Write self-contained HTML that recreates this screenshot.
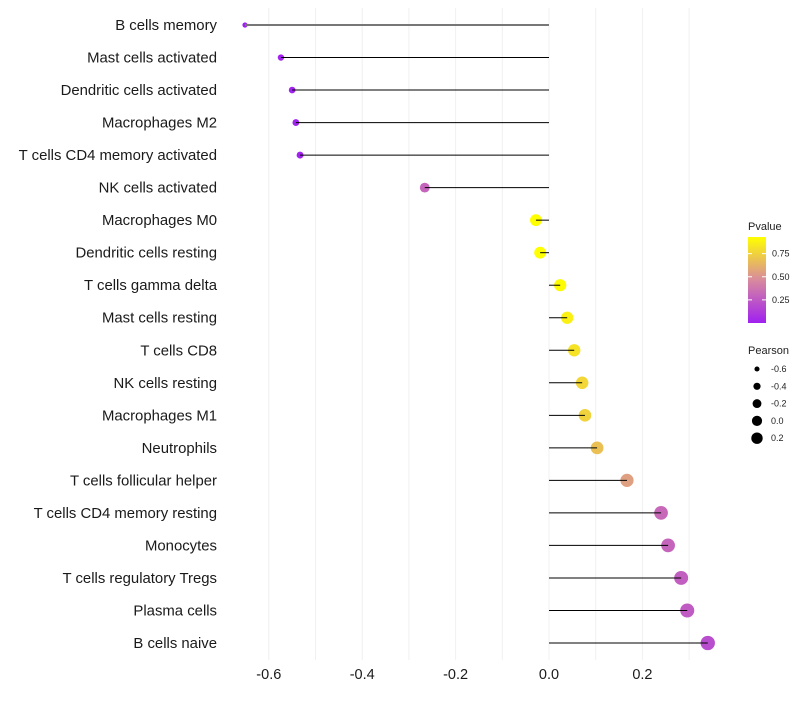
<!DOCTYPE html>
<html><head><meta charset="utf-8"><style>
body{margin:0;background:#fff;font-family:"Liberation Sans",sans-serif;}
svg text{font-family:"Liberation Sans",sans-serif;}
</style></head><body>
<svg id="chart" width="800" height="700"></svg>
<script>
const categories=["B cells memory","Mast cells activated","Dendritic cells activated","Macrophages M2","T cells CD4 memory activated","NK cells activated","Macrophages M0","Dendritic cells resting","T cells gamma delta","Mast cells resting","T cells CD8","NK cells resting","Macrophages M1","Neutrophils","T cells follicular helper","T cells CD4 memory resting","Monocytes","T cells regulatory  Tregs ","Plasma cells","B cells naive"];
const pearson=[-0.651,-0.574,-0.55,-0.542,-0.533,-0.266,-0.028,-0.019,0.024,0.039,0.054,0.071,0.077,0.103,0.167,0.24,0.255,0.283,0.296,0.34];
const pvalues=[0.004,0.008,0.01,0.012,0.014,0.3,0.93,0.93,0.92,0.87,0.82,0.77,0.75,0.68,0.55,0.32,0.3,0.27,0.26,0.2];
const xTicks=[-0.6,-0.4,-0.2,0.0,0.2];
const xTickLabels=["-0.6","-0.4","-0.2","0.0","0.2"];
const legendP=[0.75,0.5,0.25];
const legendPLabels=["0.75","0.50","0.25"];
const legendSizes=[-0.6,-0.4,-0.2,0.0,0.2];
const legendSizeLabels=["-0.6","-0.4","-0.2","0.0","0.2"];

const NS="http://www.w3.org/2000/svg";
const svg=document.getElementById('chart');
function el(t,a,p){const e=document.createElementNS(NS,t);for(const k in a)e.setAttribute(k,a[k]);(p||svg).appendChild(e);return e;}
const x=v=>549+v*467;
const y=i=>25+i*(618/19);
const r=v=>Math.sqrt(Math.max(3,9+(v+0.6)*45));
function lerp(a,b,t){return a.map((c,i)=>Math.round(c+(b[i]-c)*t));}
function col(p){const lo=[160,32,240],mid=[216,138,158],hi=[255,255,0];const t=Math.min(1,p/0.93);
 const c=t<0.5?lerp(lo,mid,t*2):lerp(mid,hi,(t-0.5)*2);return `rgb(${c})`;}

for(let v=-0.6;v<=0.31;v+=0.1){const g=el('line',{x1:x(v),x2:x(v),y1:8,y2:660,stroke:'#f0f0f0','stroke-width':1});
}
xTicks.forEach((v,i)=>{const t=el('text',{x:x(v),y:679,'font-size':14.5,'text-anchor':'middle',fill:'#1a1a1a'});t.textContent=xTickLabels[i];
});
categories.forEach((c,i)=>{
 const t=el('text',{x:217,y:y(i)+5,'font-size':14.9,'text-anchor':'end',fill:'#1a1a1a'});t.textContent=c;
 
 const d=el('circle',{cx:x(pearson[i]),cy:y(i),r:r(pearson[i]),fill:col(pvalues[i])});
 
 const l=el('line',{x1:x(0),x2:x(pearson[i]),y1:y(i),y2:y(i),stroke:i==0?'#777':'#000','stroke-width':i==0?2:1});
 
});
let tt=el('text',{x:748,y:230,'font-size':11,fill:'#222'});tt.textContent='Pvalue';

const defs=el('defs',{});const lg=el('linearGradient',{id:'g',x1:0,y1:1,x2:0,y2:0},defs);
el('stop',{offset:'0','stop-color':col(0)},lg);el('stop',{offset:'0.5','stop-color':col(0.465)},lg);el('stop',{offset:'1','stop-color':col(0.93)},lg);
const cb=el('rect',{x:748,y:237,width:18,height:86,fill:'url(#g)'});

const py=p=>323-p/0.93*86;
legendP.forEach((p,i)=>{el('line',{x1:748,x2:752,y1:py(p),y2:py(p),stroke:'#fff'});el('line',{x1:762,x2:766,y1:py(p),y2:py(p),stroke:'#fff'});
 const t=el('text',{x:772,y:py(p)+3,'font-size':9,fill:'#222'});t.textContent=legendPLabels[i];
 });
tt=el('text',{x:748,y:354,'font-size':11,fill:'#222'});tt.textContent='Pearson';

legendSizes.forEach((v,i)=>{const cy=369+i*17.3;const c=el('circle',{cx:757,cy:cy,r:r(v)*0.85,fill:'#000'});
 
 const t=el('text',{x:771,y:cy+3,'font-size':9,fill:'#222'});t.textContent=legendSizeLabels[i];
 });
</script>
</body></html>
